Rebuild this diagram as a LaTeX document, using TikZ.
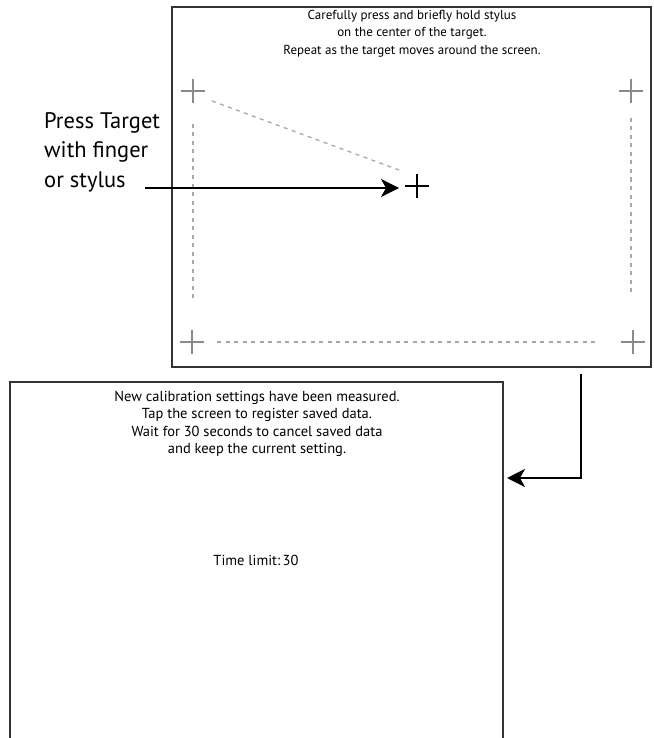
\documentclass[tikz,border=0pt]{standalone}
\usepackage{fontspec}
\setmainfont{PT Sans}
\usetikzlibrary{arrows.meta}
\definecolor{boxline}{HTML}{333333}
\definecolor{crossgray}{HTML}{8A8A8A}
\definecolor{dashgray}{HTML}{A8A8A8}
\tikzset{
  screen/.style={draw=boxline, line width=2pt},
  guide/.style={draw=dashgray, line width=1.3pt, dash pattern=on 4pt off 4.5pt},
  gcross/.pic={\draw[crossgray, line width=1.9pt] (-12,0)--(12,0) (0,-12)--(0,12);},
  bcross/.pic={\draw[black, line width=1.9pt] (-12,0)--(12,0) (0,-12)--(0,12);},
  flow/.style={draw=black, line width=1.6pt, -{Stealth[length=18pt,width=18pt,inset=5pt]}},
  smalltext/.style={align=center, font=\fontsize{13}{17.5}\selectfont},
  bodytext/.style={align=center, font=\fontsize{14.5}{17.5}\selectfont},
  bigtext/.style={align=left, anchor=north west, font=\fontsize{22.5}{29.5}\selectfont, inner sep=0pt}
}
\begin{document}
\begin{tikzpicture}[x=1pt, y=-1pt]
\useasboundingbox (0,0) rectangle (653,738);
% top screen
\draw[screen] (172,7) rectangle (651,367);
\node[smalltext] (t1) at (412,33.5) {Carefully press and briefly hold stylus\\on the center of the target.\\Repeat as the target moves around the screen.};
% crosses
\coordinate (tl) at (193,91);
\coordinate (tr) at (631,91);
\coordinate (bl) at (192,342);
\coordinate (br) at (633,342);
\coordinate (tc) at (417,186);
\pic at (tl) {gcross};
\pic at (tr) {gcross};
\pic at (bl) {gcross};
\pic at (br) {gcross};
\pic at (tc) {bcross};
% guides
\draw[guide] (212,101) -- (399,170);
\draw[guide] (193,124) -- (193,300);
\draw[guide] (631,118) -- (631,294);
\draw[guide] (217,342) -- (598,342);
% label and arrow
\node[bigtext] (lab) at (44,112) {Press Target\\with finger\\or stylus};
\coordinate (labend) at (145,188);
\coordinate (tcin) at (399,188);
\draw[flow] (labend) -- (tcin);
% bottom screen
\draw[screen] (10,738) -- (10,382) -- (503,382) -- (503,738);
\node[bodytext] (t2) at (257,424) {New calibration settings have been measured.\\Tap the screen to register saved data.\\Wait for 30 seconds to cancel saved data\\and keep the current setting.};
\node[bodytext] (t3) at (256,560) {Time limit:\,30};
% connector
\coordinate (cstart) at (581,374);
\coordinate (cend) at (507,478);
\draw[flow] (cstart) |- (cend);
\end{tikzpicture}
\end{document}
